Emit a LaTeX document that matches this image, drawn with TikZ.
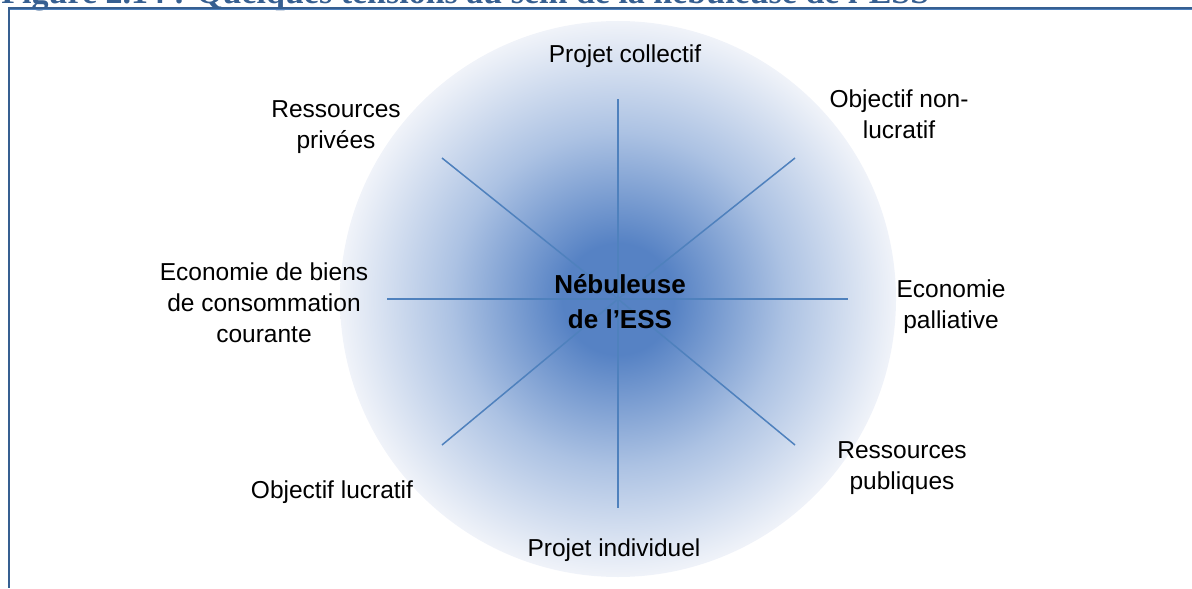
\documentclass[tikz,border=0pt]{standalone}
\usepackage{fontspec}
\setmainfont{Liberation Sans}
\newfontfamily\titlefont{Liberation Serif}
\usepackage{tikz}
\usetikzlibrary{positioning}

\definecolor{lineblue}{RGB}{79,129,189}
\definecolor{frameblue}{RGB}{54,95,145}
\definecolor{nebblue}{RGB}{86,130,196}
\definecolor{nebmid}{RGB}{172,194,227}
\definecolor{nebrim}{RGB}{240,243,249}
\pgfdeclareradialshading{nebula}{\pgfpoint{0bp}{0bp}}{color(0bp)=(nebblue); color(5bp)=(nebblue); color(15bp)=(nebmid); color(25bp)=(nebrim); color(50bp)=(nebrim)}

\begin{document}
\begin{tikzpicture}[x=0.5pt, y=-0.5pt,
		spoke/.style={draw=lineblue, line width=0.75pt},
		pole/.style={font=\fontsize{12.25}{15.5}\selectfont, align=center, inner sep=0pt}]
		\path[use as bounding box, clip] (0,0) rectangle (1192,588);
		\shade[shading=nebula] (618,299) circle (278);
		% title and frame
		\node[anchor=base west, inner sep=0pt, text=frameblue, font=\titlefont\bfseries\fontsize{17}{19}\selectfont] (titre) at (1,4) {Figure 2.14 : Quelques tensions au sein de la nébuleuse de l’ESS};
		\draw[frameblue, line width=0.9pt] (9,8) -- (1192,8);
		\draw[lineblue, line width=0.5pt] (10,10) -- (1192,10);
		\draw[frameblue, line width=1pt] (9,7) -- (9,588);
		% spokes
		\coordinate (c) at (618,299);
		\coordinate (n) at (618,99);
		\coordinate (s) at (618,508);
		\coordinate (w) at (387,299);
		\coordinate (e) at (848,299);
		\coordinate (nw) at (442,158);
		\coordinate (ne) at (795,158);
		\coordinate (sw) at (442,445);
		\coordinate (se) at (795,445);
		\foreach \tip in {n,ne,e,se,s,sw,w,nw}
			\draw[spoke] (c) -- (\tip);
		\node[font=\bfseries\fontsize{13}{17.5}\selectfont, align=center, inner sep=0pt] (neb) at (620,302) {Nébuleuse\\de l’ESS};
		% poles
		\node[pole] (collectif) at (625,56) {Projet collectif};
		\node[pole] (nonlucratif) at (899,114) {Objectif non-\\lucratif};
		\node[pole] (palliative) at (951,307) {Economie\\palliative};
		\node[pole] (publiques) at (902,468) {Ressources\\publiques};
		\node[pole] (individuel) at (614,550) {Projet individuel};
		\node[pole] (lucratif) at (332,492) {Objectif lucratif};
		\node[pole] (courante) at (264,303) {Economie de biens\\de consommation\\courante};
		\node[pole] (privees) at (336,127) {Ressources\\privées};
	\end{tikzpicture}
\end{document}
